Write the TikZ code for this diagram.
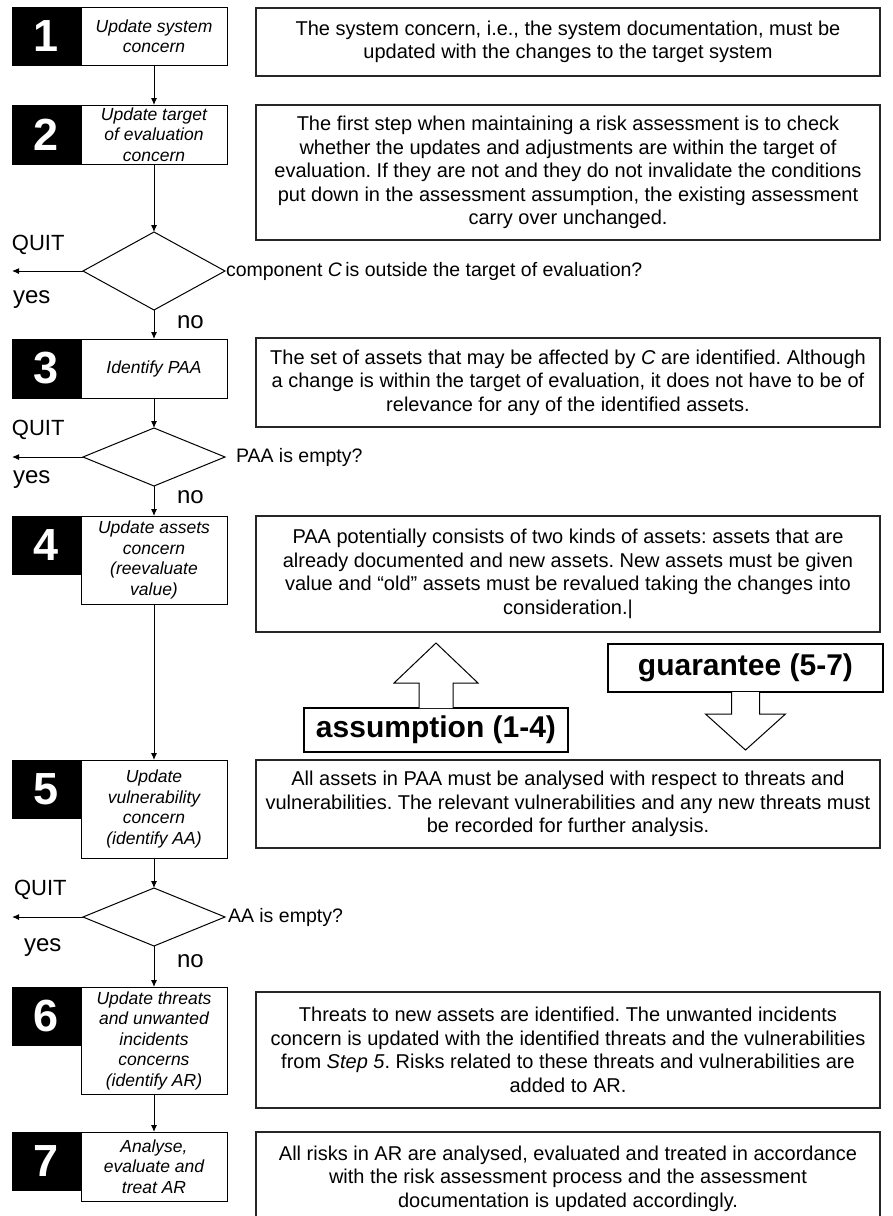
\documentclass[tikz,border=0pt]{standalone}
\usepackage{fontspec}
\setmainfont{Liberation Sans}
\usetikzlibrary{shapes.geometric,arrows.meta,calc}
\begin{document}
\frenchspacing
\begin{tikzpicture}[x=1pt,y=-1pt,
  every node/.style={inner sep=0pt, outer sep=0pt},
  numbox/.style={fill=black, draw=black, line width=1pt, minimum width=69pt, minimum height=58pt, text=white, font=\fontsize{45}{45}\selectfont\bfseries},
  stepbox/.style={draw=black, line width=1pt, fill=white, minimum width=146pt, align=center, font=\fontsize{17.5}{20.5}\selectfont\itshape},
  descbox/.style={draw=black!85, line width=1.2pt, minimum width=624pt, align=center, font=\fontsize{20}{23.5}\selectfont},
  decision/.style={diamond, draw=black, line width=1pt, minimum width=142pt},
  lbl/.style={anchor=west, font=\fontsize{22}{22}\selectfont},
  yn/.style={anchor=west, font=\fontsize{24}{24}\selectfont},
  cond/.style={anchor=west, font=\fontsize{19.5}{23}\selectfont},
  flow/.style={draw=black, line width=1pt, -{Latex[length=7pt,width=6pt]}},
  bigarrow/.style={draw=black, line width=1pt, fill=white, line join=miter},
  tagbox/.style={draw=black, line width=1.2pt, fill=white, font=\fontsize{30}{30}\selectfont\bfseries}
]
\fill[white] (0,0) rectangle (892,1216);
\useasboundingbox (0,0) rectangle (892,1216);

% ---- steps (left column)
\node[stepbox, minimum height=58pt] (s1) at (154,36) {Update system\\concern};
\node[numbox] (n1) at (46.5,36) {1};
\node[stepbox, minimum height=59pt] (s2) at (154,134.5) {Update target\\of evaluation\\concern};
\node[numbox, minimum height=59pt] (n2) at (46.5,134.5) {2};
\node[decision, minimum height=78pt] (d1) at (154,271) {};
\node[stepbox, minimum height=59pt] (s3) at (154,368.5) {Identify PAA};
\node[numbox, minimum height=59pt] (n3) at (46.5,368.5) {3};
\node[decision, minimum height=58pt] (d2) at (154,457) {};
\node[stepbox, minimum height=88pt] (s4) at (154,560) {Update assets\\concern\\(reevaluate\\value)};
\node[numbox] (n4) at (46.5,545) {4};
\node[stepbox, minimum height=98pt] (s5) at (154,809) {Update\\vulnerability\\concern\\(identify AA)};
\node[numbox] (n5) at (46.5,789) {5};
\node[decision, minimum height=58pt] (d3) at (154,917) {};
\node[stepbox, minimum height=107pt] (s6) at (154,1040.5) {Update threats\\and unwanted\\incidents\\concerns\\(identify AR)};
\node[numbox] (n6) at (46.5,1016) {6};
\node[stepbox, minimum height=69pt] (s7) at (154,1166.5) {Analyse,\\evaluate and\\treat AR};
\node[numbox] (n7) at (46.5,1161) {7};

% ---- decision texts and labels
\node[cond] (c1) at (226,271) {component \textit{C}\,is outside the target of evaluation?};
\node[cond] (c2) at (236,457) {PAA is empty?};
\node[cond] (c3) at (228,917) {AA is empty?};

\node[lbl] (quit1) at (12,245) {QUIT};
\node[yn] (yes1) at (13,300) {yes};
\node[yn] (no1) at (177,322) {no};
\node[lbl] (quit2) at (12,430) {QUIT};
\node[yn] (yes2) at (13,480) {yes};
\node[yn] (no2) at (177,497) {no};
\node[lbl] (quit3) at (14,890) {QUIT};
\node[yn] (yes3) at (24,948) {yes};
\node[yn] (no3) at (177,961) {no};

\coordinate (q1) at (12,271);
\coordinate (q2) at (12,457);
\coordinate (q3) at (12,917);

% ---- flow connectors
\draw[flow] (s1.south) -- (s2.north);
\draw[flow] (s2.south) -- (d1.north);
\draw[flow] (d1.south) -- (s3.north);
\draw[flow] (s3.south) -- (d2.north);
\draw[flow] (d2.south) -- (s4.north);
\draw[flow] (s4.south) -- (s5.north);
\draw[flow] (s5.south) -- (d3.north);
\draw[flow] (d3.south) -- (s6.north);
\draw[flow] (s6.south) -- (s7.north);
\draw[flow] (d1.west) -- (q1);
\draw[flow] (d2.west) -- (q2);
\draw[flow] (d3.west) -- (q3);

% ---- description boxes (right column)
\node[descbox, minimum height=68pt] (t1) at (568,42) {The system concern, i.e., the system documentation, must be\\updated with the changes to the target system};
\node[descbox, minimum height=135pt] (t2) at (568,172.5) {The first step when maintaining a risk assessment is to check\\whether the updates and adjustments are within the target of\\evaluation. If they are not and they do not invalidate the conditions\\put down in the assessment assumption, the existing assessment\\carry over unchanged.};
\node[descbox, minimum height=89pt] (t3) at (568,382.5) {The set of assets that may be affected by \textit{C} are identified. Although\\a change is within the target of evaluation, it does not have to be of\\relevance for any of the identified assets.};
\node[descbox, minimum height=116pt] (t4) at (568,574) {PAA potentially consists of two kinds of assets: assets that are\\already documented and new assets. New assets must be given\\value and “old” assets must be revalued taking the changes into\\consideration.|};
\node[descbox, minimum height=88pt] (t5) at (568,804) {All assets in PAA must be analysed with respect to threats and\\vulnerabilities. The relevant vulnerabilities and any new threats must\\be recorded for further analysis.};
\node[descbox, minimum height=116pt] (t6) at (568,1050) {Threats to new assets are identified. The unwanted incidents\\concern is updated with the identified threats and the vulnerabilities\\from \textit{Step 5}. Risks related to these threats and vulnerabilities are\\added to AR.};
\node[descbox, minimum height=93pt] (t7) at (568,1178.5) {All risks in AR are analysed, evaluated and treated in accordance\\with the risk assessment process and the assessment\\documentation is updated accordingly.};

% ---- assumption / guarantee block arrows
\node[tagbox, minimum width=264pt, minimum height=44pt] (as) at (436,730) {assumption (1-4)};
\draw[bigarrow] ($(as.north)+(-17,0)$) -- ++(0,-25) -- ++(-25,0) -- ($(as.north)+(0,-65)$) -- ($(as.north)+(42,-25)$) -- ++(-25,0) -- ($(as.north)+(17,0)$);

\node[tagbox, minimum width=275pt, minimum height=48pt] (gu) at (745.5,668) {guarantee (5-7)};
\draw[bigarrow] ($(gu.south)+(-14,0)$) -- ++(0,22) -- ++(-26,0) -- ($(gu.south)+(0,58)$) -- ($(gu.south)+(40,22)$) -- ++(-26,0) -- ($(gu.south)+(14,0)$);
\end{tikzpicture}
\end{document}
